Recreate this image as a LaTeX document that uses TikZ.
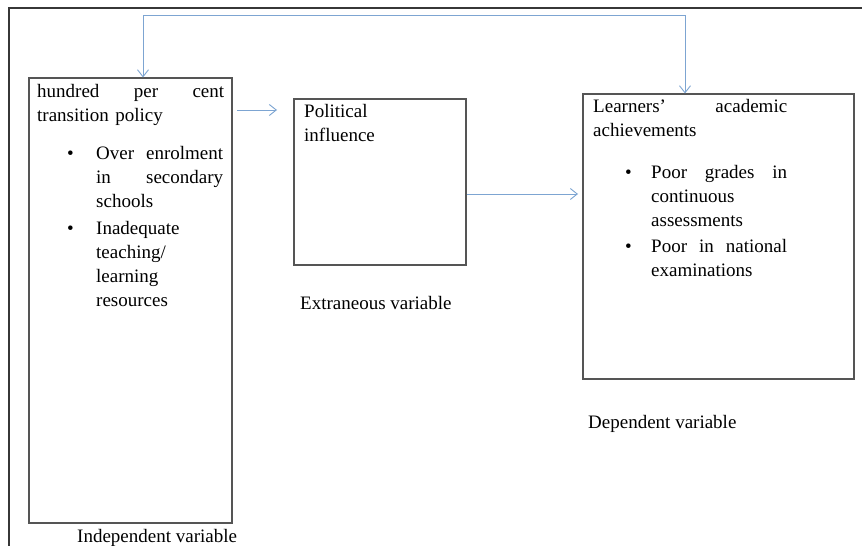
\documentclass[tikz,border=0pt]{standalone}
\usepackage{fontspec}
\setmainfont{Liberation Serif}
\usetikzlibrary{arrows.meta}
\definecolor{arrowblue}{RGB}{125,165,210}
\definecolor{boxgray}{RGB}{85,85,85}
\definecolor{framegray}{RGB}{55,55,55}
\begin{document}
\begin{tikzpicture}[x=1pt,y=-1pt,
  box/.style={draw=boxgray, line width=1.1pt, rectangle, inner sep=0pt},
  txt/.style={font=\fontsize{19}{24.3}\selectfont, inner sep=0pt, anchor=base west, align=left},
  tip/.tip={Straight Barb[length=7pt,width=11pt]},
  conn/.style={draw=arrowblue, line width=0.9pt, -tip},
  fb/.style={draw=arrowblue, line width=0.9pt, tip-tip},
]
\useasboundingbox (0,0) rectangle (862,546);
\fill[white] (0,0) rectangle (862,546);
% outer frame
\draw[framegray, line width=1.5pt] (9,560) -- (9,8) -- (870,8);

% boxes
\node[box, minimum width=203pt, minimum height=445pt] (L) at (130.5,300.5) {};
\node[box, minimum width=172pt, minimum height=166pt] (M) at (380,182) {};
\node[box, minimum width=271pt, minimum height=285pt] (R) at (718.5,236.5) {};

% left box text
\node[txt, text width=187pt] (Lhead) at (37,97) {hundred\hfill per\hfill cent\\transition policy};
\node[txt] (Lb1) at (67,159) {\textbullet};
\node[txt, text width=127pt] (Li1) at (96,159) {Over\hfill enrolment\\in\hfill secondary\\schools};
\node[txt] (Lb2) at (67,234) {\textbullet};
\node[txt, text width=127pt] (Li2) at (96,234) {Inadequate\\teaching/\\learning\\resources};

% middle box text
\node[txt, text width=150pt] (Mhead) at (304,117) {Political\\influence};

% right box text
\node[txt, text width=194pt] (Rhead) at (593,112) {Learners’\hfill academic\\achievements};
\node[txt] (Rb1) at (625,178) {\textbullet};
\node[txt, text width=136pt] (Ri1) at (651,178) {Poor\hfill grades\hfill in\\continuous\\assessments};
\node[txt] (Rb2) at (625,252) {\textbullet};
\node[txt, text width=136pt] (Ri2) at (651,252) {Poor\hfill in\hfill national\\examinations};

% labels
\node[txt] (Mlab) at (300,309) {Extraneous variable};
\node[txt] (Rlab) at (588,428) {Dependent variable};
\node[txt] (Llab) at (77,542) {Independent variable};

% connectors
\coordinate (a1s) at (237,110);
\coordinate (a1e) at (277,110);
\draw[conn] (a1s) -- (a1e);
\coordinate (a2e) at (578,194);
\draw[conn] (M.east |- a2e) -- (a2e);
\coordinate (fbL) at (143,15.5);
\coordinate (fbR) at (685,15.5);
\draw[fb] (L.north -| fbL) -- (fbL) -- (fbR) -- (R.north -| fbR);
\end{tikzpicture}
\end{document}
